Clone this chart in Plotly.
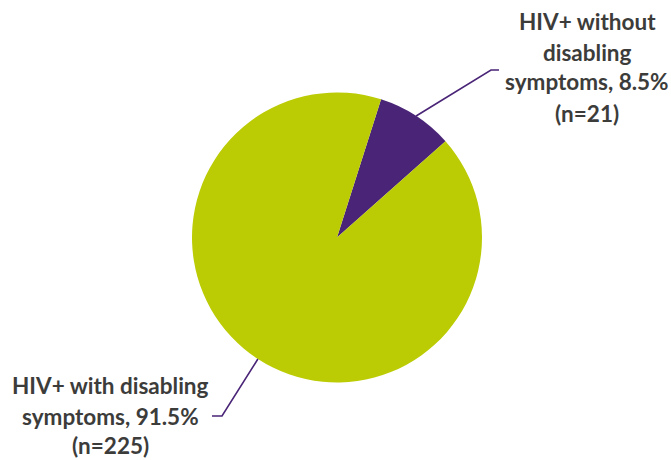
import math
import plotly.graph_objects as go

labels = ["HIV+ without disabling symptoms", "HIV+ with disabling symptoms"]
counts = [21, 225]
percents = [8.5, 91.5]
colors = ["#4A2577", "#BBCC04"]
label_lines = [
    ["HIV+ without", "disabling", "symptoms, 8.5%", "(n=21)"],
    ["HIV+ with disabling", "symptoms, 91.5%", "(n=225)"],
]

W, H = 671, 460
cx, cy, R = 337.0, 237.5, 145.0
start_deg = 17.7

fig = go.Figure(go.Pie(
    labels=labels, values=counts, sort=False, direction="clockwise",
    rotation=start_deg, marker=dict(colors=colors, line=dict(width=0)),
    textinfo="none", hoverinfo="label+percent", showlegend=False,
    domain=dict(x=[(cx - R) / W, (cx + R) / W], y=[(H - cy - R) / H, (H - cy + R) / H]),
))

def px2paper(x, y):
    return x / W, 1 - y / H

# leader lines from the middle of each slice on the edge
total = sum(counts)
acc = 0
mids = []
for c in counts:
    mids.append(start_deg + (acc + c / 2) / total * 360)
    acc += c

elbows = [((491, 70), (499, 70)), ((222, 416), (212, 416))]
shapes = []
for m, (e1, e2) in zip(mids, elbows):
    a = math.radians(m)
    sx, sy = cx + R * math.sin(a), cy - R * math.cos(a)
    pts = [px2paper(sx, sy), px2paper(*e1), px2paper(*e2)]
    path = "M {} {} L {} {} L {} {}".format(*[v for p in pts for v in p])
    shapes.append(dict(type="path", path=path, xref="paper", yref="paper",
                       line=dict(color="#4A2577", width=1.6)))

annotations = []
label_pos = [(587, [22, 52, 82, 113]), (111, [385, 416, 445])]
for lines, (x, ys) in zip(label_lines, label_pos):
    for t, y in zip(lines, ys):
        px, py = px2paper(x, y)
        annotations.append(dict(text="<b>" + t + "</b>", x=px, y=py, xref="paper", yref="paper",
                                showarrow=False, xanchor="center", yanchor="middle", borderpad=0,
                                font=dict(family="Lato", size=22.5, color="#3C3C3B")))

fig.update_layout(width=W, height=H, margin=dict(l=0, r=0, t=0, b=0),
                  paper_bgcolor="white", plot_bgcolor="white",
                  shapes=shapes, annotations=annotations)
fig.write_html("out.html")
